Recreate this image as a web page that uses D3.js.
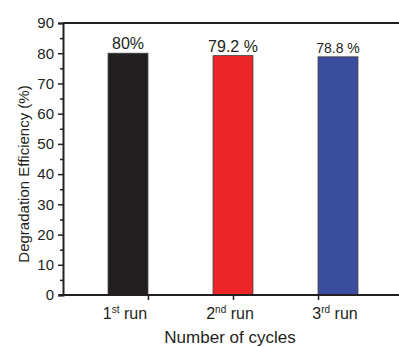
<!DOCTYPE html>
<html>
<head>
<meta charset="utf-8">
<script src="https://cdn.jsdelivr.net/npm/d3@7"></script>
<style>
  html, body { margin: 0; padding: 0; background: #fff; }
  svg { display: block; font-family: "Liberation Sans", Arial, sans-serif; }
</style>
</head>
<body>
<svg id="chart" width="399" height="347"></svg>
<script>
const categories = ["1", "2", "3"];
const superscripts = ["st", "nd", "rd"];
const values = [80, 79.2, 78.8];
const valueLabels = ["80%", "79.2 %", "78.8 %"];
const colors = ["#231f20", "#ec2628", "#3a4d9f"];
const yTicks = [0, 10, 20, 30, 40, 50, 60, 70, 80, 90];
const yMinorTicks = [5, 15, 25, 35, 45, 55, 65, 75, 85];
const xTickValues = [0.19, 1, 1.81];

const svg = d3.select("#chart");
const ink = "#231f20";

const y = d3.scaleLinear().domain([0, 90]).range([295, 23]);
const x = d3.scaleLinear().domain([0, 2]).range([128, 338]);
const barHalf = 0.19;
const xLeft = -0.619, xRight = 2.65;

// bars
svg.selectAll("rect.bar").data(values).join("rect")
  .attr("class", "bar")
  .attr("x", (d, i) => x(i - barHalf))
  .attr("width", (d, i) => x(i + barHalf) - x(i - barHalf))
  .attr("y", d => y(d))
  .attr("height", d => y(0) - y(d))
  .attr("fill", (d, i) => colors[i])
  .attr("stroke", "#3a3a3a")
  .attr("stroke-width", 0.8);

// value labels
const labelSizes = [16, 16, 14];
svg.selectAll("text.val").data(values).join("text")
  .attr("class", "val")
  .attr("x", (d, i) => x(i))
  .attr("y", d => y(d) - 4)
  .attr("text-anchor", "middle")
  .attr("font-size", (d, i) => labelSizes[i])
  .attr("fill", ink)
  .text((d, i) => valueLabels[i]);

// top frame line
svg.append("line")
  .attr("x1", x(xLeft)).attr("x2", x(xRight))
  .attr("y1", y(90)).attr("y2", y(90))
  .attr("stroke", ink).attr("stroke-width", 2);

// y axis
const yAxis = d3.axisLeft(y).tickValues(yTicks).tickSize(5).tickPadding(4).tickFormat(d3.format("d"));
const gy = svg.append("g").attr("transform", `translate(${x(xLeft)},0)`).call(yAxis);
gy.select(".domain").attr("stroke", ink).attr("stroke-width", 2);
gy.selectAll(".tick line").attr("stroke", ink).attr("stroke-width", 1.5);
gy.selectAll(".tick text").attr("font-size", 15).attr("fill", ink).attr("font-family", "Liberation Sans, Arial, sans-serif");

const yMinor = d3.axisLeft(y).tickValues(yMinorTicks).tickSize(3).tickFormat("");
const gym = svg.append("g").attr("transform", `translate(${x(xLeft)},0)`).call(yMinor);
gym.select(".domain").remove();
gym.selectAll(".tick line").attr("stroke", ink).attr("stroke-width", 1.5);

// x axis
const xAxis = d3.axisBottom(x).tickValues(xTickValues).tickSize(5).tickFormat("");
const gx = svg.append("g").attr("transform", `translate(0,${y(0)})`).call(xAxis);
gx.select(".domain").remove();
gx.selectAll(".tick line").attr("stroke", ink).attr("stroke-width", 1.5);
svg.append("line")
  .attr("x1", x(xLeft) - 4).attr("x2", x(xRight))
  .attr("y1", y(0)).attr("y2", y(0))
  .attr("stroke", ink).attr("stroke-width", 2);

// category labels
const cat = svg.selectAll("text.cat").data(categories).join("text")
  .attr("class", "cat")
  .attr("x", (d, i) => x(i) - 3)
  .attr("y", 319)
  .attr("text-anchor", "middle")
  .attr("font-size", 16)
  .attr("fill", ink);
cat.append("tspan").text(d => d);
cat.append("tspan").attr("font-size", 10).attr("dy", -6).text((d, i) => superscripts[i]);
cat.append("tspan").attr("dy", 6).text(" run");

// axis titles
svg.append("text")
  .attr("x", 230).attr("y", 343)
  .attr("text-anchor", "middle")
  .attr("font-size", 17)
  .attr("fill", ink)
  .text("Number of cycles");

svg.append("text")
  .attr("transform", "translate(29,174) rotate(-90)")
  .attr("text-anchor", "middle")
  .attr("font-size", 15)
  .attr("fill", ink)
  .text("Degradation Efficiency (%)");
</script>
</body>
</html>
